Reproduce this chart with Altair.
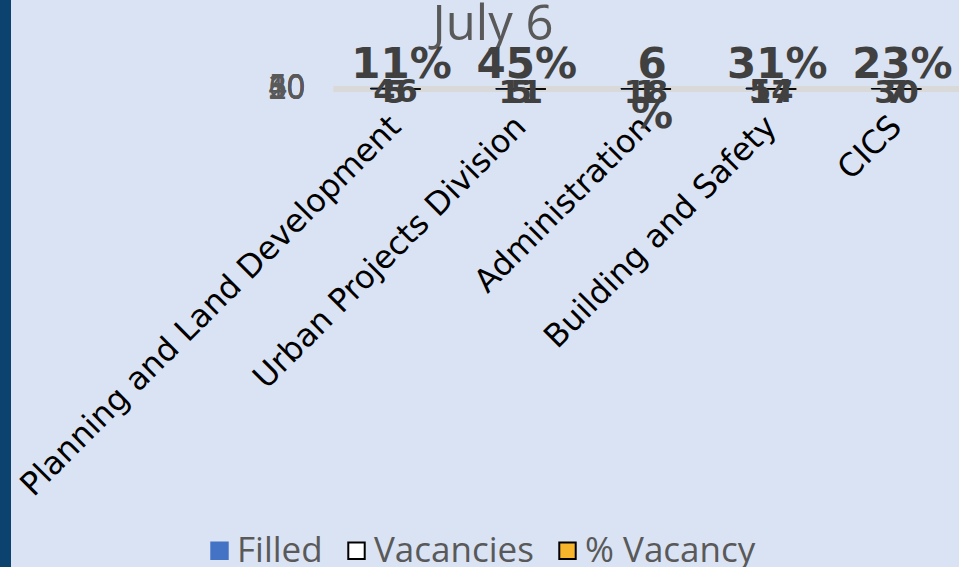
import altair as alt
import pandas as pd

categories = ["Planning and Land Development", "Urban Projects Division",
              "Administration", "Building and Safety", "CICS"]
filled = [46, 11, 18, 54, 30]
vacancies = [5, 5, 1, 17, 7]
pct_vacancy = [0.11, 0.45, 0.06, 0.31, 0.23]
pct_labels = ["11%", "45%", "6 %", "31%", "23%"]
series = ["Filled", "Vacancies", "% Vacancy"]
y_ticks = [0, 10, 20, 30, 40, 50, 60]
title_text = "July 6"

rows = []
for c, f, v, p in zip(categories, filled, vacancies, pct_vacancy):
    rows.append({"cat": c, "series": "Filled", "value": f, "label": str(f)})
    rows.append({"cat": c, "series": "Vacancies", "value": v, "label": str(v)})
    rows.append({"cat": c, "series": "% Vacancy", "value": p, "label": ""})
df = pd.DataFrame(rows)
pct_df = pd.DataFrame({"cat": categories, "value": [0] * 5, "label": pct_labels})
tick_df = pd.DataFrame({"v": y_ticks, "t": [str(v) for v in y_ticks]})

xscale = alt.Scale(domain=categories, paddingInner=0.6, paddingOuter=0.3)
yscale = alt.Scale(domain=[0, 60], nice=False)

x_enc = alt.X("cat:N", sort=categories, scale=xscale, title=None,
              axis=alt.Axis(labelAngle=-45, labelAlign="right", labelBaseline="middle",
                            labelFontSize=32, labelFont="DejaVu Sans", labelColor="#000000",
                            labelPadding=32, ticks=False, domain=False, labelLimit=1000))

legend = alt.Legend(title=None, orient="none", legendX=-131, legendY=445,
                    direction="horizontal", symbolType="square",
                    symbolSize=270, symbolStrokeWidth=2,
                    labelFontSize=35, labelFont="Open Sans",
                    labelColor="#595959", columnPadding=16,
                    labelOffset=0, labelLimit=0)

bars = alt.Chart(df).mark_bar(strokeWidth=1).encode(
    x=x_enc,
    xOffset=alt.XOffset("series:N", sort=series),
    y=alt.Y("value:Q", scale=yscale, title=None,
            axis=alt.Axis(values=y_ticks, labels=False, ticks=False, domain=False,
                          grid=True, gridColor="#D9D9D9", gridWidth=5)),
    fill=alt.Fill("series:N", sort=series,
                  scale=alt.Scale(domain=series, range=["#4472C4", "#FFFFFF", "#F7B52C"]),
                  legend=legend),
    stroke=alt.Stroke("series:N", sort=series,
                      scale=alt.Scale(domain=series, range=["#4472C4", "#000000", "#000000"]),
                      legend=legend),
)

outline = alt.Chart(df).mark_bar(strokeWidth=1, stroke="#000000", fillOpacity=0).encode(
    x=alt.X("cat:N", sort=categories, scale=xscale),
    xOffset=alt.XOffset("series:N", sort=series),
    y=alt.Y("value:Q", scale=yscale),
)

ylabels = alt.Chart(tick_df).mark_text(
    font="Open Sans", fontSize=32, color="#595959", align="right", baseline="middle"
).encode(
    x=alt.value(-28),
    y=alt.Y("v:Q", scale=yscale),
    text="t:N",
)

num_labels = alt.Chart(df[df["series"] != "% Vacancy"]).mark_text(
    font="DejaVu Sans", fontWeight="bold", fontSize=32, color="#404040",
    baseline="middle", dy=4
).encode(
    x=alt.X("cat:N", sort=categories, scale=xscale),
    y=alt.Y("value:Q", scale=yscale),
    text="label:N",
)

pct_text = alt.Chart(pct_df).mark_text(
    font="DejaVu Sans", fontWeight="bold", fontSize=42, color="#404040",
    baseline="middle", dy=-24, dx=6, lineBreak=" ", lineHeight=50
).encode(
    x=alt.X("cat:N", sort=categories, scale=xscale),
    y=alt.Y("value:Q", scale=yscale),
    text="label:N",
)

title = alt.Chart(pd.DataFrame({"t": [title_text]})).mark_text(
    font="Open Sans", fontSize=49, color="#595959", align="center", baseline="alphabetic"
).encode(x=alt.value(160), y=alt.value(-48), text="t:N")

strip = alt.Chart(pd.DataFrame({"k": [0]})).mark_rect(color="#0B436E").encode(
    x=alt.value(-333), x2=alt.value(-322), y=alt.value(-88), y2=alt.value(479)
)

chart = alt.layer(strip, bars, outline, ylabels, title, num_labels, pct_text).properties(
    width=626, height=1,
    autosize=alt.AutoSizeParams(type="none"),
    padding={"left": 333, "top": 88, "right": 0, "bottom": 478},
    background="#DAE3F3",
).configure_view(stroke=None)

chart.save("out.html", embed_options={"renderer": "svg", "actions": False})
